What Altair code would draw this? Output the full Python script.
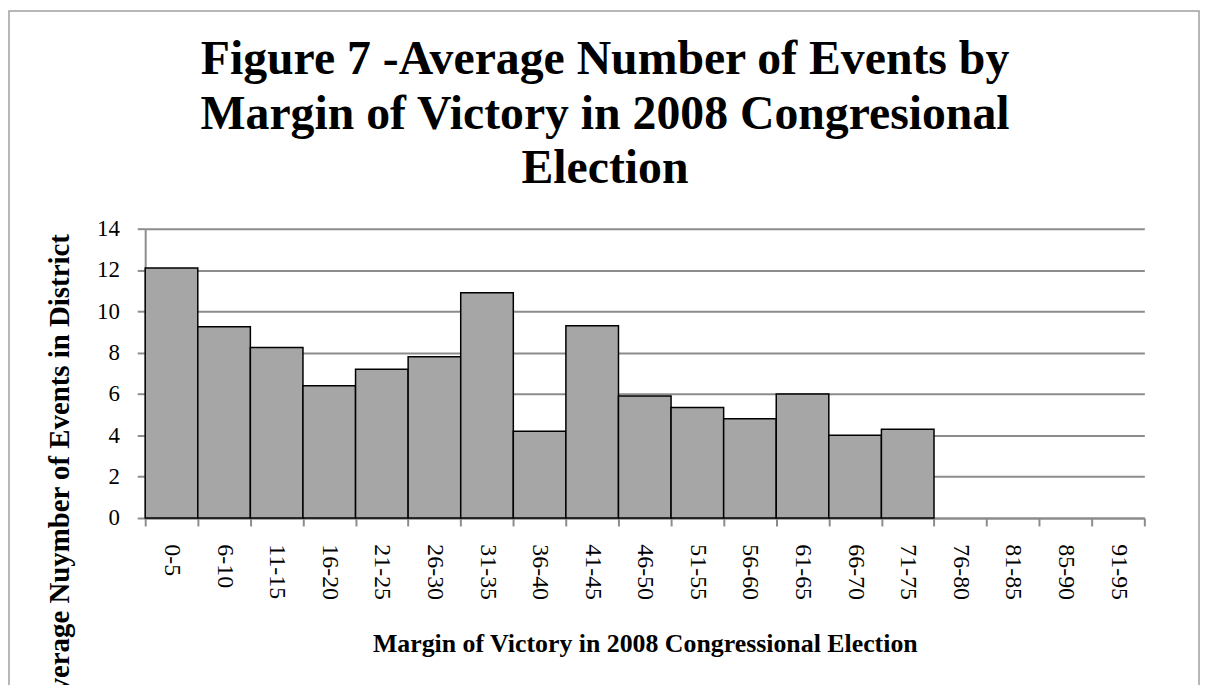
import pandas as pd
import altair as alt

# Margin-of-victory bins and average event counts (empty bins have no bar)
MARGINS = ["0-5", "6-10", "11-15", "16-20", "21-25", "26-30", "31-35", "36-40",
           "41-45", "46-50", "51-55", "56-60", "61-65", "66-70", "71-75",
           "76-80", "81-85", "85-90", "91-95"]
AVG_EVENTS = [12.1, 9.25, 8.25, 6.4, 7.2, 7.8, 10.9, 4.2,
              9.3, 5.9, 5.35, 4.8, 6.0, 4.0, 4.3]
Y_TICKS = [0, 2, 4, 6, 8, 10, 12, 14]

TITLE = ["Figure 7 -Average Number of Events by",
         "Margin of Victory in 2008 Congresional",
         "Election"]

FONT = "Liberation Serif"
GRID_GRAY = "#8c8c8c"
PLOT_W = 1005
PLOT_H = 291

df = pd.DataFrame({"margin": MARGINS[:len(AVG_EVENTS)], "events": AVG_EVENTS})

bars = (alt.Chart(df)
        .mark_bar(fill="#a6a6a6", stroke="black", strokeWidth=1.5)
        .encode(
            x=alt.X("margin:N",
                    sort=MARGINS,
                    scale=alt.Scale(domain=MARGINS, paddingInner=0, paddingOuter=0),
                    axis=alt.Axis(title="Margin of Victory in 2008 Congressional Election",
                                  labelAngle=90, labelAlign="left", labelBaseline="middle",
                                  labelPadding=18, labelFontSize=24,
                                  tickBand="extent", tickSize=8,
                                  grid=False, titleY=126, titleBaseline="middle",
                                  titleFontSize=26)),
            y=alt.Y("events:Q",
                    scale=alt.Scale(domain=[0, 14], nice=False),
                    axis=alt.Axis(title="Average Nuymber of Events in District",
                                  values=Y_TICKS, tickSize=8, labelPadding=18,
                                  labelFontSize=23,
                                  titleAngle=-90, titleAlign="right", titleBaseline="middle",
                                  titleX=-86, titleY=5, titleFontSize=29))
        ))

# thin grey frame round the whole figure, as in the spreadsheet export
frame = (alt.Chart(df.head(1))
         .mark_rect(fill=None, stroke="#a0a0a0", strokeWidth=1.5)
         .encode(x=alt.value(-137), x2=alt.value(1060),
                 y=alt.value(-219), y2=alt.value(600)))

chart = (alt.layer(bars, frame)
         .properties(
             width=PLOT_W, height=PLOT_H,
             autosize=alt.AutoSizeParams(type="none"),
             padding={"left": 138, "top": 220, "right": 60, "bottom": 166},
             title=alt.TitleParams(TITLE, anchor="middle", frame="group", dx=-40,
                                   dy=184, offset=0,
                                   font=FONT, fontSize=48, fontWeight="bold",
                                   lineHeight=55, color="black"))
         .configure_view(stroke=None)
         .configure_axis(labelFont=FONT, labelColor="black",
                         titleFont=FONT, titleFontWeight="bold", titleColor="black",
                         domainColor=GRID_GRAY, domainWidth=2,
                         tickColor=GRID_GRAY, tickWidth=2,
                         gridColor=GRID_GRAY, gridWidth=2))

chart.save("out.html", embed_options={"renderer": "svg", "actions": False})
